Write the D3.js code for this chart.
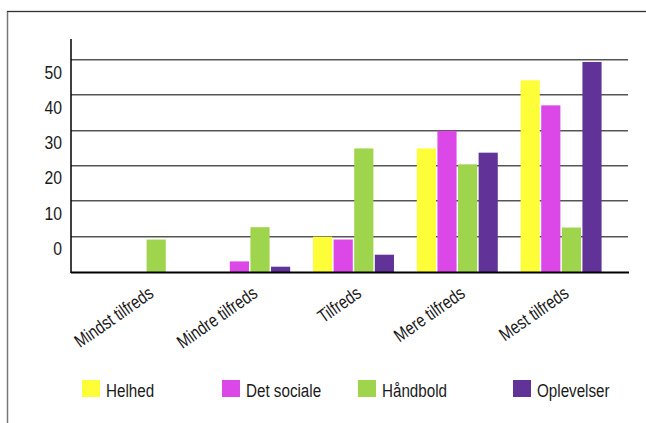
<!DOCTYPE html>
<html>
<head>
<meta charset="utf-8">
<script src="https://cdn.jsdelivr.net/npm/d3@7"></script>
<style>
  body { margin: 0; background: #fff; }
  svg text { font-family: "Liberation Sans", Arial, sans-serif; fill: #1a1a1a; }
</style>
</head>
<body>
<svg id="chart" width="646" height="423"></svg>
<script>
const categories = ['Mindst tilfreds', 'Mindre tilfreds', 'Tilfreds', 'Mere tilfreds', 'Mest tilfreds'];
const seriesNames = ['Helhed', 'Det sociale', 'Håndbold', 'Oplevelser'];
const helhed = [0, 0, 10, 35, 54.3];
const detSociale = [0, 3, 9.2, 40, 47.2];
const haandbold = [9.2, 12.7, 35, 30.5, 12.6];
const oplevelser = [0, 1.5, 4.9, 33.8, 59.5];
const tickValues = [10, 20, 30, 40, 50, 60];
const tickLabels = ['0', '10', '20', '30', '40', '50'];

const colors = ['#fdfd38', '#dc47e8', '#9fd54d', '#613399'];
const seriesValues = [helhed, detSociale, haandbold, oplevelser];

// the reference uses a condensed face; squeeze a regular one instead
const squeeze = 0.8;

const svg = d3.select('#chart');

// outer frame (right and bottom edges fall outside the picture)
svg.append('rect')
  .attr('x', 7.5).attr('y', 11.5)
  .attr('width', 660).attr('height', 430)
  .attr('fill', 'none')
  .attr('stroke', '#777')
  .attr('stroke-width', 1.5);
svg.append('line')
  .attr('x1', 7).attr('x2', 646).attr('y1', 11.5).attr('y2', 11.5)
  .attr('stroke', '#333').attr('stroke-width', 1.2);

const plotLeft = 71;
const plotRight = 628;

const y = d3.scaleLinear().domain([0, 66]).range([272, 39]);

const x = d3.scaleBand()
  .domain(categories)
  .range([94, 613])
  .paddingInner(0.22)
  .paddingOuter(0.11);

const xInner = d3.scaleBand()
  .domain(seriesNames)
  .range([0, x.bandwidth()])
  .paddingInner(0.07);

// gridlines
const grid = svg.append('g');
grid.selectAll('line.dark')
  .data(tickValues)
  .join('line')
  .attr('class', 'dark')
  .attr('x1', plotLeft).attr('x2', plotRight)
  .attr('y1', d => Math.round(y(d)) - 0.5).attr('y2', d => Math.round(y(d)) - 0.5)
  .attr('stroke', '#555');
grid.selectAll('line.light')
  .data(tickValues)
  .join('line')
  .attr('class', 'light')
  .attr('x1', plotLeft).attr('x2', plotRight)
  .attr('y1', d => Math.round(y(d)) + 0.5).attr('y2', d => Math.round(y(d)) + 0.5)
  .attr('stroke', '#aaa');

// bars
const rows = categories.map((c, i) => ({
  cat: c,
  vals: seriesNames.map((s, j) => ({ s, v: seriesValues[j][i], color: colors[j] }))
}));

svg.append('g')
  .selectAll('g')
  .data(rows)
  .join('g')
  .attr('transform', d => `translate(${x(d.cat)},0)`)
  .selectAll('rect')
  .data(d => d.vals.filter(e => e.v > 0))
  .join('rect')
  .attr('x', d => xInner(d.s))
  .attr('width', xInner.bandwidth())
  .attr('y', d => y(d.v))
  .attr('height', d => y(0) - y(d.v))
  .attr('fill', d => d.color);

// y axis
const yAxis = d3.axisLeft(y)
  .tickValues(tickValues)
  .tickSize(0)
  .tickFormat((d, i) => tickLabels[i]);

const gy = svg.append('g')
  .attr('transform', `translate(${plotLeft},0)`)
  .call(yAxis);
gy.select('.domain').remove();
gy.selectAll('text')
  .attr('font-size', 17.5)
  .attr('x', 0)
  .attr('dy', '1.02em')
  .attr('fill', '#1a1a1a')
  .attr('transform', 'translate(-9,0) scale(0.9,1)');

svg.append('line')
  .attr('x1', plotLeft).attr('x2', plotLeft)
  .attr('y1', 39).attr('y2', 273)
  .attr('stroke', '#000').attr('stroke-width', 1.5);
svg.append('line')
  .attr('x1', plotLeft).attr('x2', plotRight + 1)
  .attr('y1', 272.5).attr('y2', 272.5)
  .attr('stroke', '#000').attr('stroke-width', 2);

// x labels
const xAxis = d3.axisBottom(x).tickSize(0).tickPadding(0);
const gx = svg.append('g')
  .attr('transform', 'translate(0,272)')
  .call(xAxis);
gx.select('.domain').remove();
gx.selectAll('text')
  .attr('font-size', 18.5)
  .attr('fill', '#1a1a1a')
  .attr('text-anchor', 'end')
  .attr('dy', 0)
  .attr('y', 0)
  .attr('transform', `translate(9,24) rotate(-35) scale(${squeeze},1)`);

// legend
const legendX = [82, 222, 358, 513];
const legend = svg.append('g')
  .selectAll('g')
  .data(seriesNames)
  .join('g')
  .attr('transform', (d, i) => `translate(${legendX[i]},380)`);
legend.append('rect')
  .attr('width', 18).attr('height', 17)
  .attr('fill', (d, i) => colors[i]);
legend.append('text')
  .attr('transform', `translate(24,16.5) scale(${squeeze},1)`)
  .attr('font-size', 19)
  .text(d => d);
</script>
</body>
</html>
